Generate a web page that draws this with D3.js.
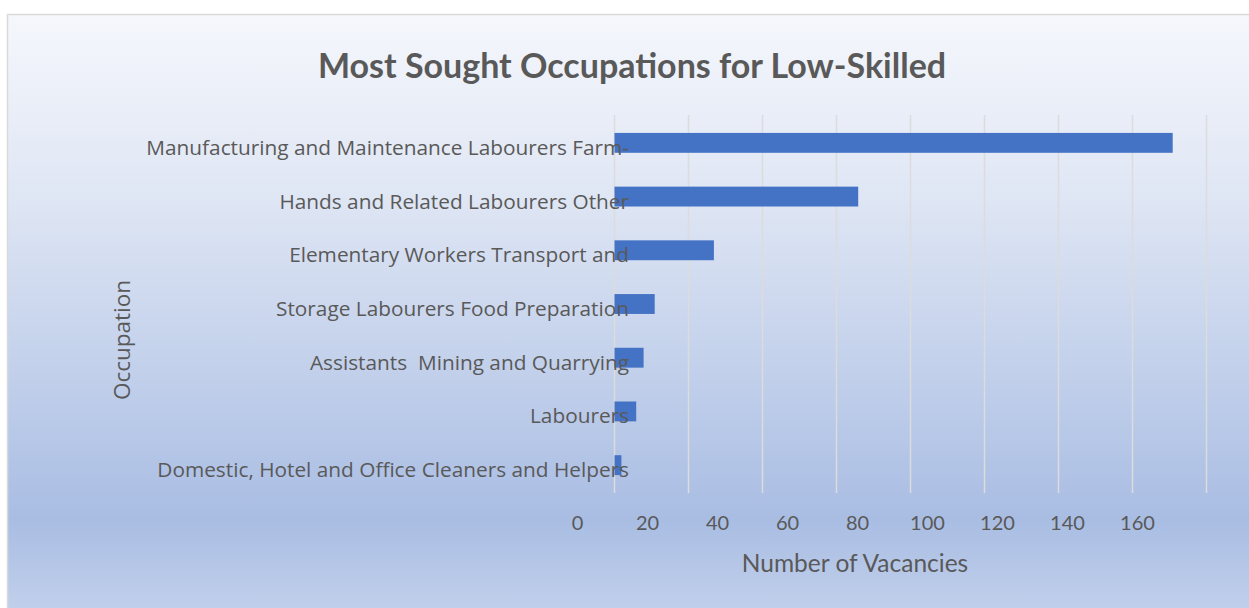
<!DOCTYPE html>
<html>
<head>
<meta charset="utf-8">
<script src="https://cdn.jsdelivr.net/npm/d3@7/dist/d3.min.js"></script>
<style>
  body { margin: 0; background: #ffffff; }
  .aText { fill: #595959; }
</style>
</head>
<body>
<div id="plot"></div>
<script>
// chart data
var occupations = [
  "Manufacturing and Maintenance Labourers Farm-",
  "Hands and Related Labourers Other",
  "Elementary Workers Transport and",
  "Storage Labourers Food Preparation",
  "Assistants  Mining and Quarrying",
  "Labourers",
  "Domestic, Hotel and Office Cleaners and Helpers"
];
var vacancies = [151, 66, 27, 11, 8, 6, 2];
var tickValues = [0, 20, 40, 60, 80, 100, 120, 140, 160];

var svgWidth = 1249;
var svgHeight = 608;

var plotData = occupations.map((o, i) => ({ occupation: o, value: vacancies[i] }));

var svg = d3.select("#plot")
  .append("svg")
  .attr("width", svgWidth)
  .attr("height", svgHeight);

// background gradient like the excel chart area
var grad = svg.append("defs")
  .append("linearGradient")
  .attr("id", "bg")
  .attr("x1", 0).attr("y1", 0)
  .attr("x2", 0).attr("y2", 1);
grad.append("stop").attr("offset", "0%").attr("stop-color", "#f5f7fc");
grad.append("stop").attr("offset", "30%").attr("stop-color", "#dfe6f4");
grad.append("stop").attr("offset", "83%").attr("stop-color", "#a9bde3");
grad.append("stop").attr("offset", "100%").attr("stop-color", "#c4d2ec");

svg.append("rect")
  .attr("x", 7.5)
  .attr("y", 14.5)
  .attr("width", svgWidth)
  .attr("height", svgHeight)
  .attr("fill", "url(#bg)")
  .attr("stroke", "#d9d9d9")
  .attr("stroke-width", 1.5);

// Step 1: scales
// ==============================
var xLinearScale = d3.scaleLinear()
  .domain([0, 160])
  .range([614, 1206]);

// the value labels sit offset from the gridlines in the original
var xLabelScale = d3.scaleLinear()
  .domain([0, 160])
  .range([577, 1137]);

var yBandScale = d3.scaleBand()
  .domain(occupations)
  .range([116, 492])
  .paddingInner(0.63)
  .paddingOuter(0.315);

// Step 2: gridlines
// ==============================
svg.append("g")
  .attr("class", "grid")
  .attr("transform", "translate(0, 493)")
  .call(d3.axisBottom(xLinearScale).tickValues(tickValues).tickSize(-378).tickFormat(""))
  .call(g => g.select(".domain").remove())
  .call(g => g.selectAll("line").attr("stroke", "#dcdcdc").attr("stroke-width", 1.5));

// Step 3: tick labels
// ==============================
svg.append("g")
  .attr("class", "x_axis")
  .attr("transform", "translate(0, 513)")
  .call(d3.axisBottom(xLabelScale).tickValues(tickValues).tickSize(0))
  .call(g => g.select(".domain").remove())
  .call(g => g.selectAll("text")
    .attr("fill", "#595959")
    .attr("font-family", "Lato, sans-serif")
    .attr("font-size", "20px"));

// Step 4: bars
// ==============================
svg.append("g")
  .selectAll("rect")
  .data(plotData)
  .enter()
  .append("rect")
  .attr("x", xLinearScale(0) + 0.5)
  .attr("y", d => yBandScale(d.occupation))
  .attr("width", d => xLinearScale(d.value) - xLinearScale(0) - 0.5)
  .attr("height", yBandScale.bandwidth())
  .attr("fill", "#4472c4");

// Step 5: category labels (drawn over the bars, as in the picture)
// ==============================
svg.append("g")
  .selectAll("text")
  .data(plotData)
  .enter()
  .append("text")
  .attr("class", "aText")
  .attr("x", 629)
  .attr("y", d => yBandScale(d.occupation) + yBandScale.bandwidth() / 2 + 12)
  .attr("text-anchor", "end")
  .attr("font-family", "'Open Sans', sans-serif")
  .attr("font-size", "20.8px")
  .style("white-space", "pre")
  .text(d => d.occupation);

// Step 6: titles
// ==============================
svg.append("text")
  .attr("class", "aText")
  .attr("x", 632)
  .attr("y", 78)
  .attr("text-anchor", "middle")
  .attr("font-family", "Lato, sans-serif")
  .attr("font-weight", "bold")
  .attr("font-size", "34px")
  .text("Most Sought Occupations for Low-Skilled");

svg.append("text")
  .attr("class", "aText")
  .attr("x", 855)
  .attr("y", 572)
  .attr("text-anchor", "middle")
  .attr("font-family", "Lato, sans-serif")
  .attr("font-size", "24.5px")
  .text("Number of Vacancies");

svg.append("text")
  .attr("class", "aText")
  .attr("transform", "translate(130, 340) rotate(-90)")
  .attr("text-anchor", "middle")
  .attr("font-family", "'Open Sans', sans-serif")
  .attr("font-size", "22.5px")
  .text("Occupation");
</script>
</body>
</html>
